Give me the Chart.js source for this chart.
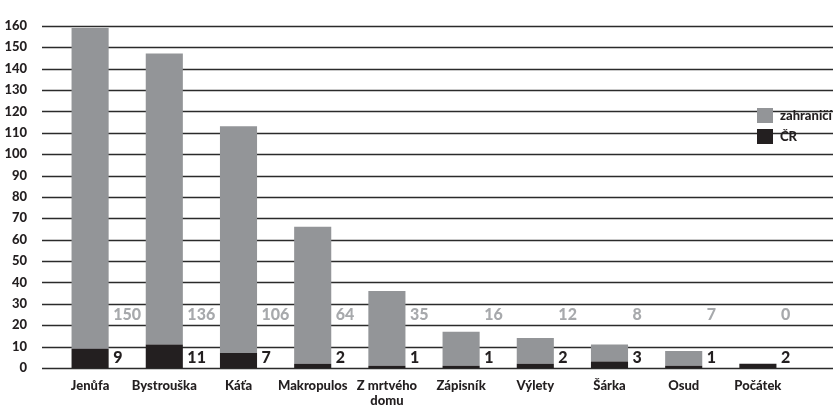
<!DOCTYPE html>
<html>
<head>
<meta charset="utf-8">
<script src="https://cdn.jsdelivr.net/npm/chart.js@4/dist/chart.umd.min.js"></script>
<style>
  html, body { margin: 0; padding: 0; background: #fff; }
  #wrap { width: 833px; height: 411px; position: relative; }
</style>
</head>
<body>
<div id="wrap"><canvas id="operas"></canvas></div>
<script>
const categories = ['Jenůfa', 'Bystrouška', 'Káťa', 'Makropulos', ['Z mrtvého', 'domu'],
    'Zápisník', 'Výlety', 'Šárka', 'Osud', 'Počátek'];
const domestic = [9, 11, 7, 2, 1, 1, 2, 3, 1, 2];
const abroad = [150, 136, 106, 64, 35, 16, 12, 8, 7, 0];
const yMax = 160;
const yStep = 10;

const ink = '#231f20';
const grey = '#939598';
const greyText = '#a7a9ac';
const font = 'Lato';

// horizontal rules across the full width, behind the bars
const rules = {
    id: 'rules',
    beforeDatasetsDraw(chart) {
        const { ctx, scales: { y } } = chart;
        ctx.save();
        ctx.strokeStyle = '#2b2b2b';
        ctx.lineWidth = 1.4;
        y.ticks.forEach(t => {
            const py = Math.round(y.getPixelForValue(t.value)) + 0.5;
            ctx.beginPath();
            ctx.moveTo(42, py);
            ctx.lineTo(chart.width, py);
            ctx.stroke();
        });
        ctx.restore();
    }
};

// value labels to the right of every bar
const valueLabels = {
    id: 'valueLabels',
    afterDatasetsDraw(chart) {
        const { ctx, scales: { y } } = chart;
        const zero = y.getPixelForValue(0);
        ctx.save();
        ctx.font = `900 16px ${font}`;
        ctx.textAlign = 'left';
        ctx.textBaseline = 'alphabetic';
        chart.getDatasetMeta(0).data.forEach((bar, i) => {
            const x = bar.x + bar.width / 2 + 4.5;
            ctx.fillStyle = greyText;
            ctx.fillText(abroad[i], x, zero - 48);
            ctx.fillStyle = ink;
            ctx.fillText(domestic[i], x, zero - 5);
        });
        ctx.restore();
    }
};

// legend boxes sitting over the rules at the right
const legendBoxes = {
    id: 'legendBoxes',
    afterDraw(chart) {
        const { ctx } = chart;
        const items = [chart.data.datasets[1], chart.data.datasets[0]];
        ctx.save();
        ctx.font = `900 13px ${font}`;
        ctx.textBaseline = 'middle';
        items.forEach((ds, i) => {
            const top = 108 + i * 21;
            ctx.fillStyle = ds.backgroundColor;
            ctx.fillRect(757, top, 16, 15);
            ctx.fillStyle = ink;
            ctx.fillText(ds.label, 780, top + 7.5);
        });
        ctx.restore();
    }
};

new Chart(document.getElementById('operas'), {
    type: 'bar',
    data: {
        labels: categories,
        datasets: [
            { label: 'ČR', data: domestic, backgroundColor: ink },
            { label: 'zahraničí', data: abroad, backgroundColor: grey }
        ]
    },
    options: {
        responsive: true,
        maintainAspectRatio: false,
        animation: false,
        layout: { padding: { top: 15, right: 38, bottom: 0, left: 0 } },
        datasets: { bar: { barPercentage: 1, categoryPercentage: 0.5 } },
        scales: {
            x: {
                stacked: true,
                grid: { display: false },
                border: { display: false },
                afterFit(scale) { scale.height = 43; },
                ticks: {
                    color: ink,
                    font: { family: font, weight: '900', size: 13, lineHeight: 1.15 },
                    padding: 2,
                    maxRotation: 0,
                    autoSkip: false
                }
            },
            y: {
                stacked: true,
                min: 0,
                max: yMax,
                grid: { display: false },
                border: { display: false },
                afterFit(scale) { scale.width = 53; },
                ticks: {
                    stepSize: yStep,
                    color: ink,
                    font: { family: font, weight: '900', size: 13 },
                    padding: 18
                }
            }
        },
        plugins: {
            legend: { display: false },
            tooltip: { enabled: false }
        }
    },
    plugins: [rules, valueLabels, legendBoxes]
});
</script>
</body>
</html>
